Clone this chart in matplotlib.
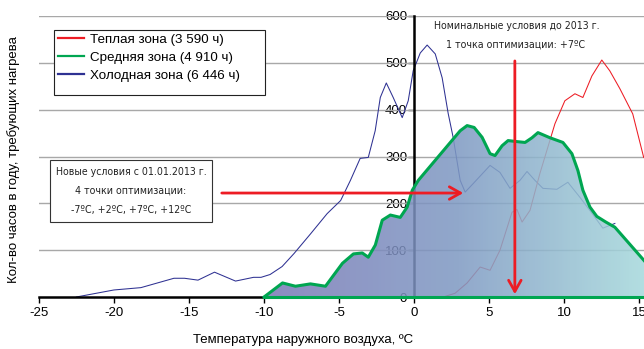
import numpy as np
import matplotlib
matplotlib.use("Agg")
import matplotlib.pyplot as plt
from matplotlib.lines import Line2D
from matplotlib.patches import Rectangle, Polygon
from matplotlib import font_manager

# --- данные ---
cold_x = [-22.5, -20.0, -18.2, -16.0, -15.3, -14.4, -13.3, -11.9, -10.7, -10.2, -9.6, -8.8,
          -8.0, -6.9, -5.8, -4.9, -4.25, -3.6, -3.06, -2.6, -2.26, -1.86, -1.4, -0.8, -0.4,
          -0.07, 0.4, 0.86, 1.4, 1.86, 2.26, 2.59, 3.06, 3.39, 3.92, 5.05, 5.71, 6.38,
          7.04, 7.51, 8.04, 8.57, 9.5, 10.23, 11.03, 11.83, 12.56, 13.36]
cold_y = [0, 15, 20, 40, 40, 36, 53, 34, 42, 42, 48, 65,
          93, 135, 178, 206, 249, 296, 298, 355, 426, 457, 426, 383, 419,
          483, 521, 538, 519, 468, 392, 341, 249, 224, 242, 281, 266, 232,
          249, 268, 249, 232, 230, 245, 213, 179, 147, 157]

warm_x = [1.93, 2.72, 3.52, 4.39, 5.05, 5.71, 6.51, 6.84, 7.18, 7.71, 8.37, 9.37, 10.03,
          10.7, 11.23, 11.83, 12.49, 13.02, 13.69, 14.55, 15.28]
warm_y = [0, 8, 30, 64, 57, 100, 181, 187, 160, 185, 264, 370, 419,
          434, 426, 472, 506, 483, 445, 391, 298]

mid_x = [-10.0, -8.77, -7.91, -6.91, -5.91, -5.45, -4.78, -4.05, -3.46, -3.06, -2.59, -2.13,
         -1.59, -0.93, -0.47, -0.13, 0.27, 3.06, 3.52, 3.99, 4.52, 5.05, 5.38, 5.85, 6.25,
         6.78, 7.38, 7.84, 8.24, 9.04, 9.9, 10.5, 10.9, 11.23, 11.7, 12.16, 12.76, 13.36,
         15.22, 15.3]
mid_y = [0, 30, 23, 28, 23, 43, 72, 92, 94, 85, 111, 164,
         175, 170, 192, 228, 249, 355, 366, 362, 341, 306, 302, 323, 334,
         332, 330, 340, 351, 340, 330, 306, 270, 228, 192, 172, 160, 149,
         81, 78]

legend_labels = ["Теплая зона (3 590 ч)", "Средняя зона (4 910 ч)", "Холодная зона (6 446 ч)"]
x_ticks = [-25, -20, -15, -10, -5, 0, 5, 10, 15]
y_ticks = [0, 100, 200, 300, 400, 500, 600]

red = "#ed1c24"
green = "#00a651"
navy = "#2e3192"

plt.rcParams["font.family"] = ["Liberation Sans", "DejaVu Sans"]
plt.rcParams["axes.unicode_minus"] = False

# узкий шрифт для подписей, если найдётся
narrow = None
for f in font_manager.fontManager.ttflist:
    n = f.name + " " + str(f.stretch)
    if ("Narrow" in n or "ondensed" in n) and f.style == "normal" and "Mono" not in f.name \
            and "Serif" not in f.name and f.weight in (400, "normal", "regular"):
        narrow = f.fname
        break
if narrow:
    ann_kw = dict(fontproperties=font_manager.FontProperties(fname=narrow, size=7.6))
else:
    ann_kw = dict(fontsize=6.9)

fig = plt.figure(figsize=(6.44, 3.49), dpi=100)
ax = fig.add_axes([38.8 / 644, 1 - 297 / 349, 1 - 38.8 / 644, 281 / 349])
ax.set_axisbelow(True)

# сетка
for v in y_ticks[1:]:
    ax.axhline(v, color="#a8a8a8", lw=1, zorder=0.6)

ax.plot(cold_x, cold_y, color=navy, lw=0.75, zorder=2)
ax.plot(warm_x, warm_y, color=red, lw=0.75, zorder=2)

# градиентная заливка средней зоны
stops_x = [-10, 3, 15.3]
stops_c = np.array([[122, 120, 183], [127, 154, 195], [166, 217, 220]]) / 255
gx = np.linspace(-10, 15.3, 300)
grad = np.stack([np.interp(gx, stops_x, stops_c[:, k]) for k in range(3)], axis=-1)
grad = np.repeat(grad[None, :, :], 2, axis=0)
im = ax.imshow(grad, extent=[-10, 15.3, 0, 600], aspect="auto", zorder=3, alpha=0.86,
               interpolation="bilinear")
poly = Polygon(list(zip(mid_x, mid_y)) + [(15.3, 0)], closed=True, facecolor="none",
               edgecolor="none", transform=ax.transData)
ax.add_patch(poly)
im.set_clip_path(poly)
ax.plot(mid_x, mid_y, color=green, lw=2.2, zorder=4, solid_joinstyle="round", clip_on=False)
ax.plot([-10, 15.3], [0, 0], color=green, lw=2.2, zorder=4, clip_on=False)

ax.set_xlim(-25, 15.3)
ax.set_ylim(0, 600)

# оси
for s in ["top", "right"]:
    ax.spines[s].set_visible(False)
ax.spines["left"].set_position(("data", 0))
ax.spines["left"].set_linewidth(1.8)
ax.spines["bottom"].set_linewidth(1.8)
ax.set_xticks(x_ticks)
ax.set_yticks(y_ticks)
ax.tick_params(axis="x", length=4, width=1, labelsize=9.5, pad=3)
ax.tick_params(axis="y", length=4, width=1, labelsize=9.5, pad=1)

# стрелки
ax.annotate("", xy=(3.45, 222), xytext=(-13.0, 222), zorder=6,
            arrowprops=dict(arrowstyle="->,head_length=0.8,head_width=0.45", color=red, lw=2))
ax.annotate("", xy=(6.7, 0), xytext=(6.7, 510), zorder=6,
            arrowprops=dict(arrowstyle="->,head_length=0.8,head_width=0.45", color=red, lw=2))

# легенда (рамка отдельно)
fig.patches.append(Rectangle((54 / 644, 1 - 95 / 349), 211 / 644, 65 / 349,
                             transform=fig.transFigure, facecolor="white",
                             edgecolor="#222222", lw=0.8, zorder=7))
handles = [Line2D([], [], color=c, lw=1.6) for c in (red, green, navy)]
leg = fig.legend(handles, legend_labels, loc="upper left",
                 bbox_to_anchor=(55 / 644, 1 - 31 / 349), fontsize=9.6, frameon=False,
                 handlelength=2.0, handletextpad=0.45, labelspacing=0.42, borderpad=0.2,
                 borderaxespad=0)
leg.set_zorder(8)

# подписи
fig.patches.append(Rectangle((50 / 644, 1 - 222 / 349), 162 / 644, 62 / 349,
                             transform=fig.transFigure, facecolor="white",
                             edgecolor="#333333", lw=0.8, zorder=7))
for i, t in enumerate(["Новые условия с 01.01.2013 г.", "4 точки оптимизации:",
                       "-7ºC, +2ºC, +7ºC, +12ºC"]):
    fig.text(131 / 644, 1 - (172 + 19 * i) / 349, t, ha="center", va="center",
             color="#222222", zorder=8, **ann_kw)
fig.text(517 / 644, 1 - 26 / 349, "Номинальные условия до 2013 г.", ha="center", va="center",
         color="#222222", **ann_kw)
fig.text(516 / 644, 1 - 45 / 349, "1 точка оптимизации: +7ºC", ha="center", va="center",
         color="#222222", **ann_kw)

fig.text(14 / 644, 1 - 160 / 349, "Кол-во часов в году, требующих нагрева", rotation=90,
         ha="center", va="center", fontsize=9.5)
fig.text(303 / 644, 1 - 340 / 349, "Температура наружного воздуха, ºC", ha="center",
         va="center", fontsize=9.5)

fig.savefig("out.png", dpi=100)
